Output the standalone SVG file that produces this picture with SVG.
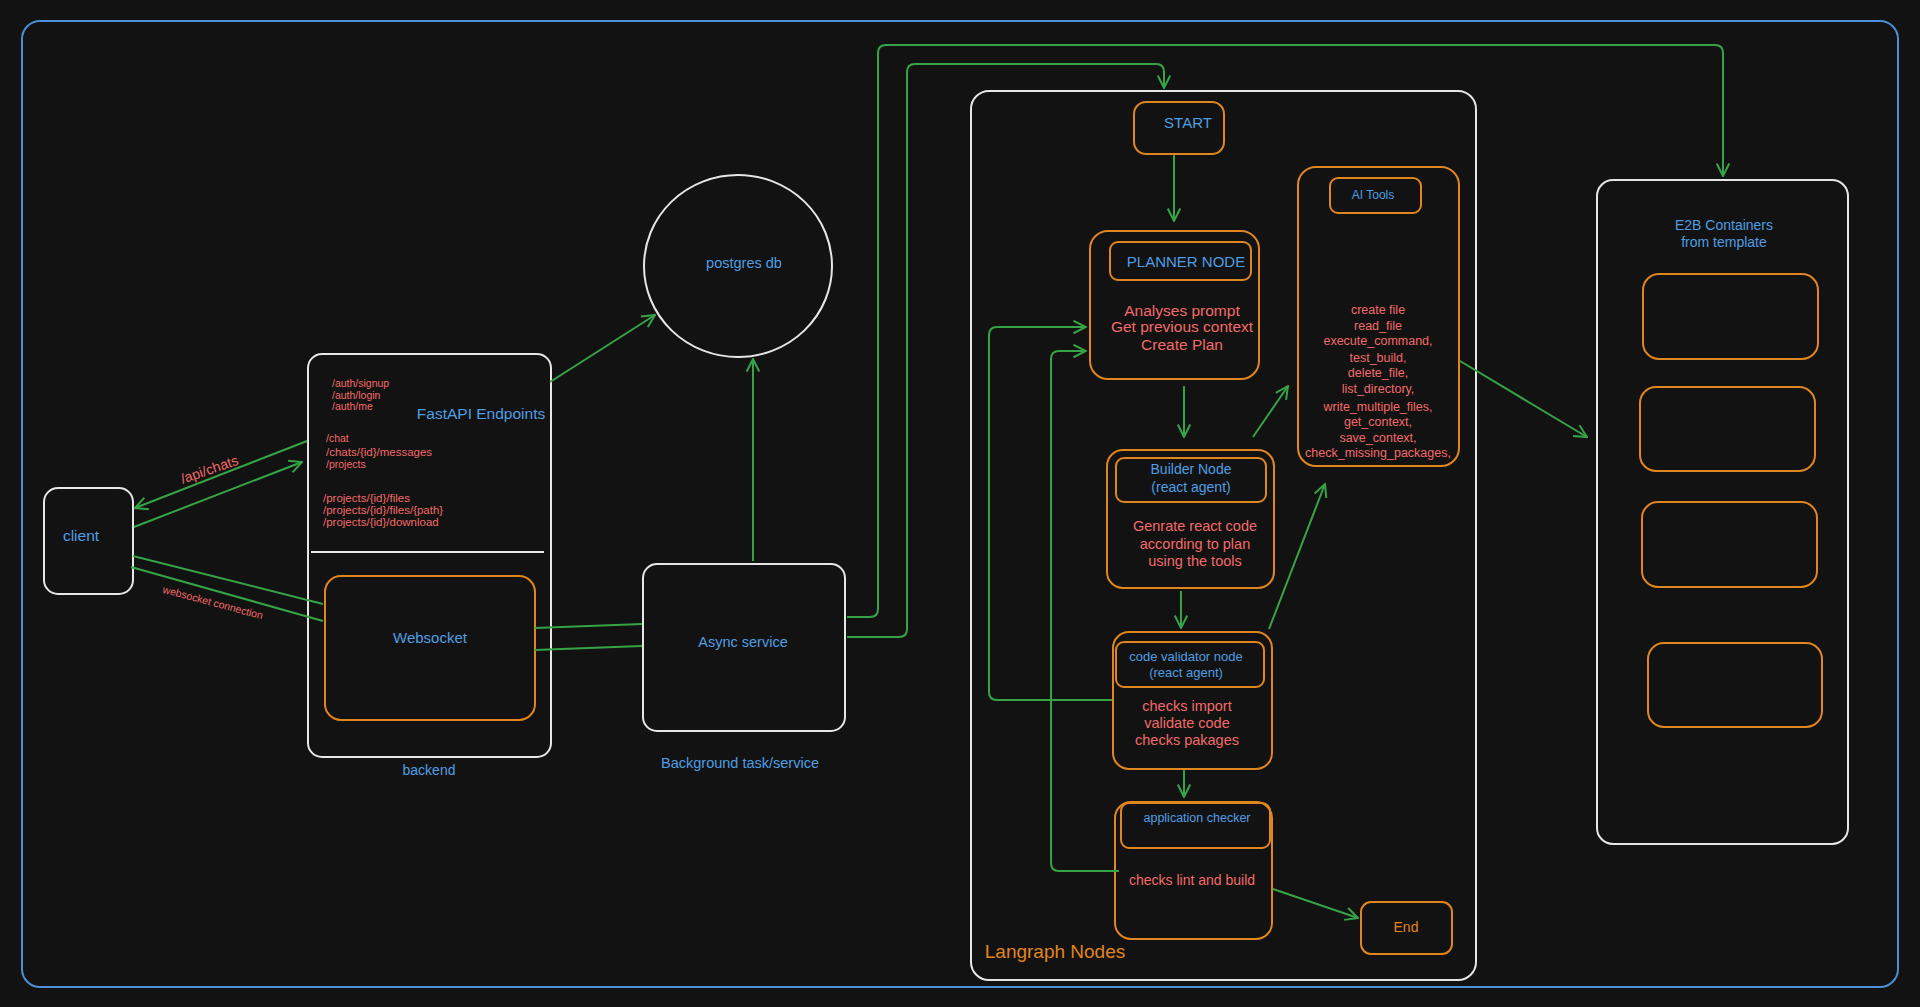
<svg xmlns="http://www.w3.org/2000/svg" width="1920" height="1007" viewBox="0 0 1920 1007">
<style>
text{font-family:"Liberation Sans",Arial,sans-serif}
.bg{fill:#121212}
.frame{fill:none;stroke:#4c8fd6;stroke-width:2}
.w{fill:none;stroke:#e6e6e6;stroke-width:2}
.o{fill:none;stroke:#e0861f;stroke-width:2}
.g{fill:none;stroke:#37a347;stroke-width:2}
.ga{fill:none;stroke:#37a347;stroke-width:2;marker-end:url(#arr)}
.b{fill:#4f9ee3;text-anchor:middle}
.r{fill:#f26a6a;text-anchor:middle}
.rs{fill:#f26a6a;font-size:10.5px}
.rm{fill:#f26a6a;font-size:11.5px}
.ot{fill:#e0861f;text-anchor:middle}
</style>
<defs>
<marker id="arr" viewBox="0 0 12 12" refX="11" refY="6" markerWidth="15" markerHeight="15" markerUnits="userSpaceOnUse" orient="auto">
<path d="M1,1 L11,6 L1,11" fill="none" stroke="#37a347" stroke-width="1.6"/>
</marker>
</defs>
<rect class="bg" x="0" y="0" width="1920" height="1007"/>
<rect class="frame" x="22" y="21" width="1876" height="966" rx="18"/>

<g id="client">
<rect class="w" x="44" y="488" width="89" height="106" rx="14"/>
<text class="b" x="81" y="541" font-size="15.5">client</text>
</g>

<g id="backend">
<rect class="w" x="308" y="354" width="243" height="403" rx="14"/>
<line class="w" x1="311" y1="552" x2="544" y2="552"/>
<text class="b" x="481" y="419" font-size="15.5">FastAPI Endpoints</text>
<text class="rs" x="332" y="387">/auth/signup</text>
<text class="rs" x="332" y="399">/auth/login</text>
<text class="rs" x="332" y="410">/auth/me</text>
<text class="rs" x="326" y="442">/chat</text>
<text class="rm" x="326" y="456">/chats/{id}/messages</text>
<text class="rs" x="326" y="468">/projects</text>
<text class="rm" x="323" y="502">/projects/{id}/files</text>
<text class="rm" x="323" y="514">/projects/{id}/files/{path}</text>
<text class="rm" x="323" y="526">/projects/{id}/download</text>
<text class="b" x="429" y="775" font-size="14">backend</text>
</g>

<g id="websocket">
<rect class="o" x="325" y="576" width="210" height="144" rx="16"/>
<text class="b" x="430" y="643" font-size="15">Websocket</text>
</g>

<g id="postgres">
<ellipse class="w" cx="738" cy="266" rx="94" ry="91"/>
<text class="b" x="744" y="268" font-size="14.5">postgres db</text>
</g>

<g id="async-service">
<rect class="w" x="643" y="564" width="202" height="167" rx="14"/>
<text class="b" x="743" y="647" font-size="14.5">Async service</text>
<text class="b" x="740" y="768" font-size="14.5">Background task/service</text>
</g>

<g id="langgraph">
<rect class="w" x="971" y="91" width="505" height="889" rx="18"/>
<text class="ot" x="1055" y="958" font-size="19">Langraph Nodes</text>
</g>

<g id="start">
<rect class="o" x="1134" y="102" width="90" height="52" rx="12"/>
<text class="b" x="1188" y="128" font-size="15">START</text>
</g>

<g id="planner">
<rect class="o" x="1090" y="231" width="169" height="148" rx="18"/>
<rect class="o" x="1110" y="242" width="141" height="38" rx="8"/>
<text class="b" x="1186" y="267" font-size="15">PLANNER NODE</text>
<text class="r" x="1182" y="316" font-size="15.5">Analyses prompt</text>
<text class="r" x="1182" y="332" font-size="15.5">Get previous context</text>
<text class="r" x="1182" y="350" font-size="15.5">Create Plan</text>
</g>

<g id="ai-tools">
<rect class="o" x="1298" y="167" width="161" height="299" rx="18"/>
<rect class="o" x="1330" y="178" width="91" height="35" rx="8"/>
<text class="b" x="1373" y="199" font-size="12">AI Tools</text>
<text class="r" x="1378" y="314" font-size="12.5">create file</text>
<text class="r" x="1378" y="330" font-size="12.5">read_file</text>
<text class="r" x="1378" y="345" font-size="12.5">execute_command,</text>
<text class="r" x="1378" y="362" font-size="12.5">test_build,</text>
<text class="r" x="1378" y="377" font-size="12.5">delete_file,</text>
<text class="r" x="1378" y="393" font-size="12.5">list_directory,</text>
<text class="r" x="1378" y="411" font-size="12.5">write_multiple_files,</text>
<text class="r" x="1378" y="426" font-size="12.5">get_context,</text>
<text class="r" x="1378" y="442" font-size="12.5">save_context,</text>
<text class="r" x="1378" y="457" font-size="12.5">check_missing_packages,</text>
</g>

<g id="builder">
<rect class="o" x="1107" y="450" width="167" height="138" rx="16"/>
<rect class="o" x="1116" y="458" width="150" height="44" rx="8"/>
<text class="b" x="1191" y="474" font-size="14">Builder Node</text>
<text class="b" x="1191" y="492" font-size="14">(react agent)</text>
<text class="r" x="1195" y="531" font-size="14.5">Genrate react code</text>
<text class="r" x="1195" y="549" font-size="14.5">according to plan</text>
<text class="r" x="1195" y="566" font-size="14.5">using the tools</text>
</g>

<g id="validator">
<rect class="o" x="1113" y="632" width="159" height="137" rx="16"/>
<rect class="o" x="1116" y="642" width="148" height="45" rx="8"/>
<text class="b" x="1186" y="661" font-size="13">code validator node</text>
<text class="b" x="1186" y="677" font-size="13">(react agent)</text>
<text class="r" x="1187" y="711" font-size="14.5">checks import</text>
<text class="r" x="1187" y="728" font-size="14.5">validate code</text>
<text class="r" x="1187" y="745" font-size="14.5">checks pakages</text>
</g>

<g id="app-checker">
<rect class="o" x="1115" y="802" width="157" height="137" rx="16"/>
<rect class="o" x="1121" y="803" width="149" height="45" rx="8"/>
<text class="b" x="1197" y="822" font-size="12.5">application checker</text>
<text class="r" x="1192" y="885" font-size="14">checks lint and build</text>
</g>

<g id="end">
<rect class="o" x="1361" y="902" width="91" height="52" rx="10"/>
<text class="ot" x="1406" y="932" font-size="14">End</text>
</g>

<g id="e2b">
<rect class="w" x="1597" y="180" width="251" height="664" rx="16"/>
<text class="b" x="1724" y="230" font-size="14">E2B Containers</text>
<text class="b" x="1724" y="247" font-size="14">from template</text>
<rect class="o" x="1643" y="274" width="175" height="85" rx="16"/>
<rect class="o" x="1640" y="387" width="175" height="84" rx="16"/>
<rect class="o" x="1642" y="502" width="175" height="85" rx="16"/>
<rect class="o" x="1648" y="643" width="174" height="84" rx="16"/>
</g>

<g id="connectors">
<line class="ga" x1="307" y1="441" x2="135" y2="508"/>
<line class="ga" x1="134" y1="527" x2="302" y2="462"/>
<text fill="#f26a6a" font-size="14" text-anchor="middle" transform="translate(211,474) rotate(-19)">/api/chats</text>
<line class="g" x1="133" y1="556" x2="323" y2="604"/>
<line class="g" x1="131" y1="567" x2="323" y2="621"/>
<text fill="#f26a6a" font-size="10.5" text-anchor="middle" transform="translate(212,606) rotate(15)">websocket connection</text>
<line class="g" x1="535" y1="628" x2="642" y2="624"/>
<line class="g" x1="535" y1="650" x2="642" y2="646"/>
<line class="ga" x1="550" y1="382" x2="655" y2="315"/>
<line class="ga" x1="753" y1="561" x2="753" y2="359"/>
<path class="ga" d="M847,617 L870,617 Q878,617 878,609 L878,53 Q878,45 886,45 L1715,45 Q1723,45 1723,53 L1723,176"/>
<path class="ga" d="M847,637 L899,637 Q907,637 907,629 L907,72 Q907,64 915,64 L1156,64 Q1164,64 1164,72 L1164,88"/>
<line class="ga" x1="1174" y1="155" x2="1174" y2="221"/>
<line class="ga" x1="1184" y1="386" x2="1184" y2="437"/>
<line class="ga" x1="1181" y1="591" x2="1181" y2="628"/>
<line class="ga" x1="1184" y1="770" x2="1184" y2="797"/>
<line class="ga" x1="1253" y1="437" x2="1288" y2="386"/>
<line class="ga" x1="1269" y1="629" x2="1325" y2="484"/>
<line class="ga" x1="1460" y1="361" x2="1587" y2="437"/>
<line class="ga" x1="1273" y1="889" x2="1358" y2="918"/>
<path class="ga" d="M1112,700 L997,700 Q989,700 989,692 L989,335 Q989,327 997,327 L1086,327"/>
<path class="ga" d="M1119,871 L1059,871 Q1051,871 1051,863 L1051,359 Q1051,351 1059,351 L1086,351"/>
</g>
</svg>
